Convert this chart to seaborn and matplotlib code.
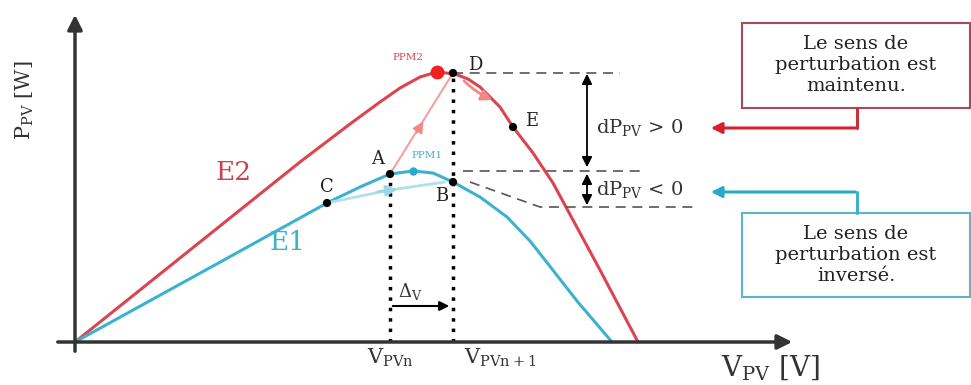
import matplotlib
matplotlib.use("Agg")
import matplotlib.pyplot as plt
import seaborn as sns
from matplotlib.patches import Rectangle

# P-V curves (arbitrary units)
e2_v = [0, 125, 225, 275, 305, 325, 345, 362, 380, 393, 405, 425, 438, 458, 478, 498, 525, 563]
e2_p = [0, 100, 180, 218, 240, 254, 265, 270, 268, 263, 255, 235, 215, 189, 159, 122, 72, 0]
e1_v = [0, 158, 252, 285, 315, 338, 358, 378, 405, 432, 455, 470, 502, 537]
e1_p = [0, 87, 139, 155, 168, 171, 169, 160, 145, 125, 101, 82, 41, 0]

# operating points
pt_names = ["C", "A", "B", "D", "E"]
pt_v = [252, 315, 378, 378, 438]
pt_p = [139, 168, 160, 269, 215]
ppm2 = (362, 270)
ppm1 = (338, 171)

RED = "#dc4450"
BLUE = "#3db2cf"
DARK = "#333333"
SERIF = ["DejaVu Serif"]

sns.set_style("white")
plt.rcParams["font.family"] = SERIF
plt.rcParams["mathtext.default"] = "regular"

fig = plt.figure(figsize=(9.71, 3.85), dpi=100)
ax = fig.add_axes([0, 0, 1, 1])
ax.set_xlim(-75, 896)
ax.set_ylim(-43, 342)
ax.axis("off")

# axes with arrows
ax.annotate("", xy=(720, 0), xytext=(-20, 0),
            arrowprops=dict(arrowstyle="-|>", color=DARK, lw=2.5, mutation_scale=22))
ax.annotate("", xy=(0, 330), xytext=(0, -12),
            arrowprops=dict(arrowstyle="-|>", color=DARK, lw=2.5, mutation_scale=22))

# curves
sns.lineplot(x=e2_v, y=e2_p, color=RED, lw=2.2, sort=False, ax=ax)
sns.lineplot(x=e1_v, y=e1_p, color=BLUE, lw=2.2, sort=False, ax=ax)

# vertical dotted guides
va, pa = pt_v[1], pt_p[1]
vd, pd_ = pt_v[3], pt_p[3]
ax.plot([va, va], [0, pa], color="black", lw=2.5, ls=(0, (1, 2)))
ax.plot([vd, vd], [0, pd_], color="black", lw=2.5, ls=(0, (1, 2)))

# dashed levels
dash = dict(color="#555555", lw=1.2, ls=(0, (6, 4)))
ax.plot([vd, 545], [pd_, pd_], **dash)
ax.plot([388, 565], [171, 171], **dash)
ax.plot([395, 465, 622], [160, 135, 135], **dash)

# dP arrows
ax.annotate("", xy=(512, 271), xytext=(512, 172),
            arrowprops=dict(arrowstyle="<|-|>", color="black", lw=1.3, mutation_scale=15))
ax.annotate("", xy=(512, 171), xytext=(512, 134),
            arrowprops=dict(arrowstyle="<|-|>", color="black", lw=1.3, mutation_scale=15))
ax.text(521, 214, "dP$_{PV}$ > 0", fontsize=14, va="center", ha="left", color="#333333")
ax.text(521, 152, "dP$_{PV}$ < 0", fontsize=14, va="center", ha="left", color="#333333")

# pale direction arrows
ax.plot([va, vd], [pa, pd_], color="#f2a0a0", lw=1.5)
ax.annotate("", xy=(350, 223), xytext=(340, 207),
            arrowprops=dict(arrowstyle="-|>", color="#f08888", lw=1.5, mutation_scale=16))
ax.annotate("", xy=(420, 241), xytext=(387, 263),
            arrowprops=dict(arrowstyle="-|>", color="#f08888", lw=2, mutation_scale=16,
                            connectionstyle="arc3,rad=0.1"))
ax.plot([pt_v[0], 315, 370], [pt_p[0], 152, 160], color="#b0e0ec", lw=2)
ax.annotate("", xy=(325, 153), xytext=(300, 150),
            arrowprops=dict(arrowstyle="-|>", color="#9ad6e6", lw=2, mutation_scale=16))

# points
sns.scatterplot(x=pt_v, y=pt_p, color="black", s=35, ax=ax, zorder=5, edgecolor="none")
ax.plot(*ppm2, marker="o", ms=9, color="#ee2020", zorder=4)
ax.plot(*ppm1, marker="o", ms=5, color="#2aa8c8", zorder=4)

offsets = {"C": (0, 16), "A": (-12, 15), "B": (-11, -14), "D": (22, 8), "E": (19, 6)}
for name, v, p in zip(pt_names, pt_v, pt_p):
    dx, dy = offsets[name]
    ax.text(v + dx, p + dy, name, fontsize=13, ha="center", va="center", color="#222222")
ax.text(333, 284, "PPM2", fontsize=7.5, ha="center", va="center", color=RED)
ax.text(352, 186, "PPM1", fontsize=7.5, ha="center", va="center", color=BLUE)

# curve labels
ax.text(159, 169, "E2", fontsize=19, ha="center", va="center", color="#c84450")
ax.text(213, 99, "E1", fontsize=19, ha="center", va="center", color=BLUE)

# delta V
ax.annotate("", xy=(377, 36), xytext=(va, 36),
            arrowprops=dict(arrowstyle="-|>", color="black", lw=1.5, mutation_scale=14))
ax.text(335, 50, "Δ$_V$", fontsize=13, ha="center", va="center", color="#333333")

# axis labels
ax.text(-50, 242, "P$_{PV}$ [W]", fontsize=15, rotation=90, ha="center", va="center",
        color="#333333")
ax.text(695, -26, "V$_{PV}$ [V]", fontsize=20, ha="center", va="center", color="#333333")
ax.text(va, -16, "V$_{PVn}$", fontsize=15, ha="center", va="center", color="#333333")
ax.text(425, -16, "V$_{PVn+1}$", fontsize=15, ha="center", va="center", color="#333333")

# annotation boxes
ax.add_patch(Rectangle((667, 234), 228, 85, fill=False, ec="#a84a55", lw=1.5))
ax.add_patch(Rectangle((667, 45), 228, 84, fill=False, ec="#5ab8c4", lw=1.5))
ax.text(781, 277, "Le sens de\nperturbation est\nmaintenu.", fontsize=14, ha="center",
        va="center", linespacing=1.2, color="#222222")
ax.text(781, 87, "Le sens de\nperturbation est\ninversé.", fontsize=14, ha="center",
        va="center", linespacing=1.2, color="#222222")
ax.plot([782, 782], [234, 214], color="#c8303c", lw=2.2)
ax.annotate("", xy=(633, 214), xytext=(783, 214),
            arrowprops=dict(arrowstyle="-|>", color="#d42030", lw=2.2, mutation_scale=16))
ax.plot([782, 782], [129, 150], color=BLUE, lw=2.2)
ax.annotate("", xy=(633, 150), xytext=(783, 150),
            arrowprops=dict(arrowstyle="-|>", color="#2aa8c8", lw=2.2, mutation_scale=16))

fig.savefig("out.png", dpi=100)
